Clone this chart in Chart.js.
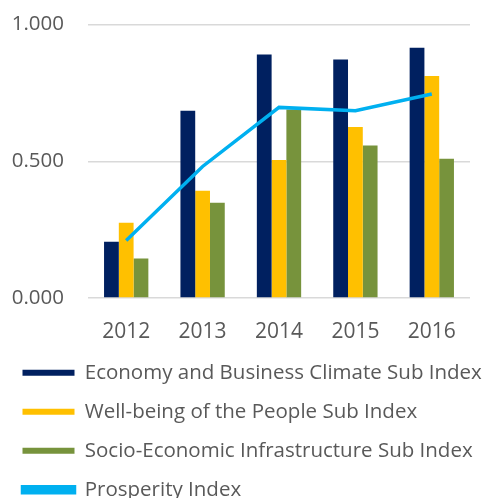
<!DOCTYPE html>
<html>
<head>
<meta charset="utf-8">
<script src="https://cdn.jsdelivr.net/npm/chart.js@4.4.0/dist/chart.umd.min.js"></script>
<style>
  html, body { margin: 0; padding: 0; background: #fff; overflow: hidden; }
  #wrap { width: 485px; height: 510px; position: relative; }
</style>
</head>
<body>
<div id="wrap"><canvas id="chart"></canvas></div>
<script>
// datos
var years = ['2012', '2013', '2014', '2015', '2016'];
var economyBusiness = [0.206, 0.685, 0.890, 0.872, 0.915];
var wellBeing = [0.275, 0.392, 0.505, 0.625, 0.812];
var socioEconomic = [0.144, 0.348, 0.689, 0.558, 0.509];
var prosperity = [0.210, 0.481, 0.697, 0.685, 0.746];
var yTicks = [0, 0.5, 1];

var textColor = '#595959';
var fontFamily = '"Open Sans", "Liberation Sans", sans-serif';

var ctx = document.getElementById('chart').getContext('2d');

var chart = new Chart(ctx, {
  type: 'bar',
  data: {
    labels: years,
    datasets: [
      {
        type: 'line',
        label: 'Prosperity Index',
        data: prosperity,
        borderColor: '#00B0F0',
        backgroundColor: '#00B0F0',
        borderWidth: 3.5,
        pointRadius: 0,
        tension: 0,
        order: 0
      },
      {
        label: 'Economy and Business Climate Sub Index',
        data: economyBusiness,
        backgroundColor: '#002060',
        order: 1
      },
      {
        label: 'Well-being of the People Sub Index',
        data: wellBeing,
        backgroundColor: '#FFC000',
        order: 1
      },
      {
        label: 'Socio-Economic Infrastructure Sub Index',
        data: socioEconomic,
        backgroundColor: '#77933C',
        order: 1
      }
    ]
  },
  options: {
    responsive: true,
    maintainAspectRatio: false,
    animation: false,
    layout: { padding: { left: 4, right: 3, top: 0, bottom: 0 } },
    datasets: {
      bar: { barPercentage: 1.0, categoryPercentage: 0.58 }
    },
    scales: {
      x: {
        grid: { display: false, drawTicks: false },
        border: { display: false },
        afterFit: function(scale) { scale.height = 46; },
        ticks: { color: textColor, padding: 24, font: { family: fontFamily, size: 21, lineHeight: 1 } }
      },
      y: {
        min: 0,
        max: 1,
        afterBuildTicks: function(scale) {
          scale.ticks = yTicks.map(function(v) { return { value: v }; });
        },
        afterFit: function(scale) { scale.width = 84; },
        grid: { color: '#D9D9D9', lineWidth: 1.5, drawTicks: false },
        border: { display: false },
        ticks: {
          color: textColor,
          padding: 24,
          font: { family: fontFamily, size: 20.5, lineHeight: 0.05 },
          callback: function(v) { return Number(v).toFixed(3); }
        }
      },
      // eje vacio a la derecha, solo deja el margen
      yRight: {
        position: 'right',
        min: 0,
        max: 1,
        afterFit: function(scale) { scale.width = 12; },
        grid: { display: false, drawTicks: false },
        border: { display: false },
        ticks: { display: false }
      }
    },
    plugins: {
      tooltip: { enabled: false },
      legend: {
        position: 'bottom',
        align: 'start',
        labels: {
          color: textColor,
          boxWidth: 52,
          boxHeight: 6,
          padding: 18.5,
          font: { family: fontFamily, size: 20.5 },
          sort: function(a, b) {
            // la linea va al final de la leyenda
            var oa = a.datasetIndex === 0 ? 99 : a.datasetIndex;
            var ob = b.datasetIndex === 0 ? 99 : b.datasetIndex;
            return oa - ob;
          }
        }
      }
    }
  }
});
</script>
</body>
</html>
